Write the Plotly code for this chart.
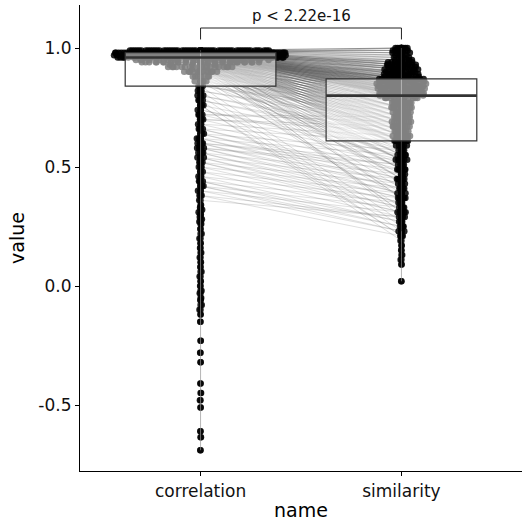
import numpy as np
import plotly.graph_objects as go

# ======================= data =======================
categories = ["correlation", "similarity"]
y_tick_values = [-0.5, 0.0, 0.5, 1.0]
y_tick_labels = ["-0.5", "0.0", "0.5", "1.0"]
p_label = "p < 2.22e-16"

# --- paired observations, high similarity part: counts[corr level][sim level]
sim_levels_high = [1.00, 0.99, 0.98, 0.97, 0.96, 0.95, 0.94, 0.93, 0.92, 0.91, 0.90,
                   0.89, 0.88, 0.87, 0.86, 0.85, 0.84, 0.83, 0.82, 0.81, 0.80]
corr_levels_high = [0.99, 0.98, 0.97, 0.96, 0.95, 0.94, 0.93, 0.92, 0.91]
pair_counts_high = [
    [5, 4, 3, 2, 2, 1, 3, 4, 3, 3, 2, 2, 2, 3, 3, 2, 2, 2, 2, 2, 2],
    [1, 2, 2, 1, 1, 2, 3, 3, 3, 3, 2, 3, 2, 4, 3, 4, 3, 3, 3, 3, 2],
    [1, 0, 0, 1, 1, 1, 1, 2, 1, 2, 2, 2, 2, 3, 3, 3, 3, 3, 2, 3, 3],
    [0, 0, 0, 0, 0, 1, 1, 0, 1, 0, 2, 1, 1, 2, 3, 2, 2, 2, 2, 2, 3],
    [0, 0, 0, 0, 0, 0, 0, 0, 1, 0, 1, 1, 1, 1, 1, 2, 1, 2, 1, 2, 1],
    [0, 0, 0, 0, 0, 0, 0, 0, 0, 0, 1, 0, 1, 0, 1, 0, 1, 1, 0, 1, 1],
    [0, 0, 0, 0, 0, 0, 0, 0, 0, 0, 0, 0, 1, 0, 0, 0, 0, 1, 0, 1, 0],
    [0, 0, 0, 0, 0, 0, 0, 0, 0, 0, 0, 0, 0, 0, 0, 0, 0, 0, 1, 0, 0],
    [0, 0, 0, 0, 0, 0, 0, 0, 0, 0, 0, 0, 0, 0, 0, 0, 0, 0, 0, 1, 0],
]

# --- paired observations, lower similarity part (high correlation side)
sim_levels_low = [0.79, 0.77, 0.75, 0.73, 0.71, 0.69, 0.67, 0.65, 0.63, 0.61, 0.59, 0.57, 0.55,
                  0.53, 0.51, 0.49, 0.47, 0.45, 0.43, 0.41, 0.39, 0.37, 0.35, 0.33, 0.31, 0.29]
corr_levels_low = [0.98, 0.96, 0.94, 0.92, 0.90, 0.88, 0.86]
pair_counts_low = [
    [3, 3, 2, 2, 2, 2, 2, 1, 2, 1, 1, 0, 1, 0, 0, 0, 0, 1, 0, 0, 0, 0, 0, 0, 0, 0],
    [3, 4, 3, 3, 2, 2, 2, 2, 2, 1, 1, 1, 0, 1, 0, 1, 0, 0, 1, 0, 0, 1, 0, 0, 0, 1],
    [3, 2, 3, 2, 2, 2, 2, 1, 2, 2, 1, 0, 1, 1, 0, 1, 0, 1, 0, 0, 0, 1, 0, 0, 1, 0],
    [2, 1, 1, 1, 1, 1, 1, 1, 1, 1, 1, 0, 1, 1, 0, 1, 0, 1, 0, 1, 0, 0, 0, 0, 1, 0],
    [1, 1, 1, 1, 1, 1, 0, 1, 0, 1, 1, 0, 0, 1, 0, 1, 0, 0, 0, 0, 1, 0, 0, 0, 0, 0],
    [0, 1, 0, 0, 0, 0, 1, 0, 0, 1, 0, 0, 0, 1, 0, 0, 1, 0, 0, 0, 0, 0, 0, 1, 0, 0],
    [0, 0, 1, 0, 0, 0, 0, 0, 0, 0, 0, 1, 0, 0, 1, 0, 0, 0, 0, 0, 0, 1, 0, 0, 0, 0],
]

# --- paired observations, low correlation column (one pair per entry)
column_corr = [0.84, 0.84, 0.84, 0.82, 0.82, 0.82, 0.80, 0.80, 0.80, 0.78, 0.78, 0.78,
               0.76, 0.76, 0.76, 0.74, 0.74, 0.72, 0.72, 0.72, 0.70, 0.70, 0.70,
               0.68, 0.68, 0.66, 0.66, 0.66, 0.64, 0.64, 0.64, 0.62, 0.62, 0.62,
               0.60, 0.60, 0.60, 0.60, 0.58, 0.58, 0.58, 0.58, 0.56, 0.56, 0.56,
               0.54, 0.54, 0.54, 0.52, 0.52, 0.52, 0.50, 0.50, 0.48, 0.48, 0.46, 0.46,
               0.44, 0.44, 0.44, 0.42, 0.42, 0.42, 0.40, 0.40, 0.38, 0.38, 0.36]
column_sim = [0.73, 0.71, 0.27, 0.69, 0.67, 0.25, 0.65, 0.63, 0.23, 0.63, 0.61, 0.21,
              0.59, 0.21, 0.19, 0.57, 0.55, 0.53, 0.71, 0.69, 0.51, 0.67, 0.65,
              0.49, 0.63, 0.47, 0.45, 0.61, 0.45, 0.43, 0.57, 0.43, 0.41, 0.55,
              0.41, 0.39, 0.53, 0.51, 0.39, 0.37, 0.51, 0.49, 0.37, 0.35, 0.47,
              0.35, 0.33, 0.45, 0.33, 0.31, 0.43, 0.31, 0.41, 0.29, 0.39, 0.27, 0.37,
              0.27, 0.25, 0.35, 0.25, 0.23, 0.33, 0.23, 0.31, 0.21, 0.29, 0.29]

# --- unpaired observations
correlation_unpaired = [0.34, 0.33, 0.32, 0.31, 0.30, 0.29, 0.28, 0.27, 0.26, 0.24, 0.22,
                        0.20, 0.18, 0.16, 0.14, 0.12, 0.10, 0.08, 0.06, 0.04, 0.02, 0.00,
                        -0.02, -0.03, -0.05, -0.06, -0.08, -0.10, -0.12, -0.15, -0.23,
                        -0.28, -0.32, -0.41, -0.45, -0.48, -0.51, -0.61, -0.635, -0.69]
similarity_unpaired = [0.17, 0.15, 0.13, 0.11, 0.09, 0.02]

assert len(column_corr) == len(column_sim)

# ---- build the pair table (corr value, sim value, count)
pairs = []
for ci, c in enumerate(corr_levels_high):
    for si, s in enumerate(sim_levels_high):
        if pair_counts_high[ci][si]:
            pairs.append((c, s, pair_counts_high[ci][si]))
for ci, c in enumerate(corr_levels_low):
    for si, s in enumerate(sim_levels_low):
        if pair_counts_low[ci][si]:
            pairs.append((c, s, pair_counts_low[ci][si]))
for c, s in zip(column_corr, column_sim):
    pairs.append((c, s, 1))

corr_values = [c for c, s, n in pairs for _ in range(n)] + correlation_unpaired
sim_values = [s for c, s, n in pairs for _ in range(n)] + similarity_unpaired

# ======================= geometry / style =======================
W, H = 522, 525
M_L, M_R, M_T, M_B = 80, 0, 5, 54
X_RANGE = [0.4, 2.6]
Y_RANGE = [-0.7773, 1.1807]
PX_PER_X = (W - M_L - M_R) / (X_RANGE[1] - X_RANGE[0])
PX_PER_Y = (H - M_T - M_B) / (Y_RANGE[1] - Y_RANGE[0])
POINT_SIZE = 6.5
SWARM = [dict(max_half=90, bw=5.6, gamma=1.0),   # correlation
         dict(max_half=25, bw=3.0, gamma=1.0)]   # similarity
LINE_ALPHA = 0.21


def van_der_corput(n, base=2):
    v, denom = 0.0, 1.0
    while n:
        n, r = divmod(n, base)
        denom *= base
        v += r / denom
    return v


def quasirandom_offsets(values, max_half, bw, gamma):
    y = np.asarray(values, dtype=float) * PX_PER_Y
    diff = (y[:, None] - y[None, :]) / bw
    dens = np.exp(-0.5 * diff ** 2).sum(axis=1)
    hw = max_half * (dens / dens.max()) ** gamma
    order = np.argsort(-y, kind="stable")
    out = np.zeros(len(y))
    for rank, i in enumerate(order):
        out[i] = hw[i] * (2 * van_der_corput(rank + 1) - 1)
    return out / PX_PER_X


fig = go.Figure()

# paired lines (one trace per distinct pair, opacity stacked by its count)
for c, s, n in pairs:
    a = 1 - (1 - LINE_ALPHA) ** n
    fig.add_trace(go.Scatter(
        x=[1, 2], y=[c, s], mode="lines",
        line=dict(color=f"rgba(85,85,85,{a:.3f})", width=0.9),
        hoverinfo="skip", showlegend=False))

groups = [corr_values, sim_values]

# points at the exact category position
for k, vals in enumerate(groups):
    fig.add_trace(go.Scatter(
        x=[k + 1] * len(vals), y=vals, mode="markers",
        marker=dict(size=POINT_SIZE, color="#333333", line=dict(width=0)),
        showlegend=False, hoverinfo="skip"))

# quasirandom-spread points
for k, vals in enumerate(groups):
    xo = quasirandom_offsets(vals, **SWARM[k])
    fig.add_trace(go.Scatter(
        x=(k + 1) + xo, y=vals, mode="markers",
        marker=dict(size=POINT_SIZE, color="rgba(0,0,0,0.85)", line=dict(width=0)),
        showlegend=False, hoverinfo="y"))

# thin vertical guide line through each group
for k, vals in enumerate(groups):
    fig.add_trace(go.Scatter(
        x=[k + 1, k + 1], y=[min(vals), max(vals)], mode="lines",
        line=dict(color="rgba(150,150,150,0.7)", width=1),
        hoverinfo="skip", showlegend=False))

# box plots above the points with semi-transparent white fill
shapes = []
BOX_HALF = 0.375
for k, vals in enumerate(groups):
    arr = np.asarray(vals)
    q1, med, q3 = np.percentile(arr, [25, 50, 75])
    iqr = q3 - q1
    lo = arr[arr >= q1 - 1.5 * iqr].min()
    hi = arr[arr <= q3 + 1.5 * iqr].max()
    xc = k + 1
    shapes.append(dict(type="line", xref="x", yref="y", x0=xc, x1=xc, y0=q3, y1=hi,
                       line=dict(color="#333333", width=1), layer="above"))
    shapes.append(dict(type="line", xref="x", yref="y", x0=xc, x1=xc, y0=q1, y1=lo,
                       line=dict(color="#333333", width=1), layer="above"))
    shapes.append(dict(type="rect", xref="x", yref="y", x0=xc - BOX_HALF, x1=xc + BOX_HALF,
                       y0=q1, y1=q3, fillcolor="rgba(255,255,255,0.5)",
                       line=dict(color="#333333", width=1.2), layer="above"))
    shapes.append(dict(type="line", xref="x", yref="y", x0=xc - BOX_HALF, x1=xc + BOX_HALF,
                       y0=med, y1=med, line=dict(color="#333333", width=2.6), layer="above"))

# significance bracket
BR_Y, BR_TICK = 1.084, 1.036
for seg in [(1, BR_TICK, 1, BR_Y), (1, BR_Y, 2, BR_Y), (2, BR_Y, 2, BR_TICK)]:
    shapes.append(dict(type="line", xref="x", yref="y", x0=seg[0], y0=seg[1], x1=seg[2], y1=seg[3],
                       line=dict(color="#222222", width=1), layer="above"))

fig.add_annotation(x=1.5, y=BR_Y, xref="x", yref="y", text=p_label, showarrow=False,
                   yanchor="bottom", yshift=1, font=dict(size=15, color="#111111"))

fig.update_layout(
    width=W, height=H, margin=dict(l=M_L, r=M_R, t=M_T, b=M_B),
    plot_bgcolor="white", paper_bgcolor="white", showlegend=False,
    font=dict(family="DejaVu Sans", color="black"), shapes=shapes)

fig.update_xaxes(range=X_RANGE, tickvals=[1, 2], ticktext=categories,
                 showline=True, linecolor="black", linewidth=1.2, ticks="outside",
                 ticklen=4, tickcolor="black", tickwidth=1, tickfont=dict(size=17, color="#111111"),
                 title=dict(text="name", font=dict(size=19), standoff=4),
                 showgrid=False, zeroline=False)
fig.update_yaxes(range=Y_RANGE, tickvals=y_tick_values, ticktext=y_tick_labels,
                 showline=True, linecolor="black", linewidth=1.2, ticks="outside",
                 ticklen=4, tickcolor="black", tickwidth=1, tickfont=dict(size=17, color="#111111"),
                 title=dict(text="value", font=dict(size=19), standoff=8),
                 showgrid=False, zeroline=False)

fig.write_html("out.html")
